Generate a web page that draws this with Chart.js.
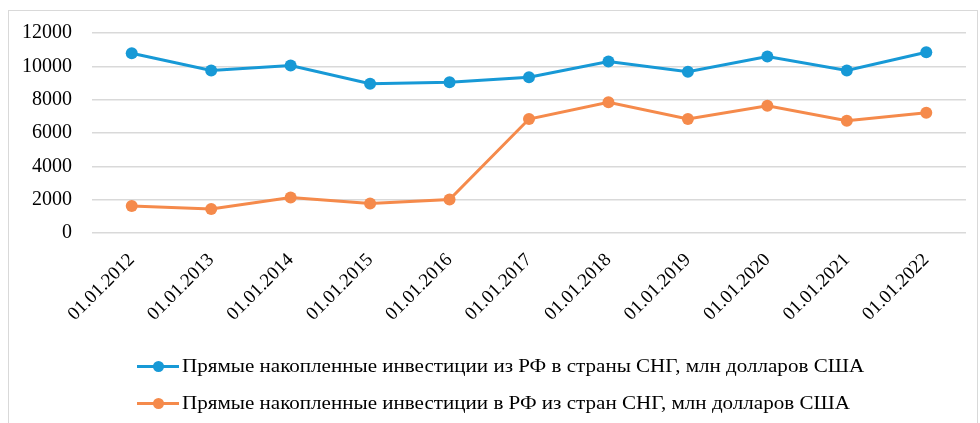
<!DOCTYPE html>
<html>
<head>
<meta charset="utf-8">
<script src="https://cdn.jsdelivr.net/npm/chart.js@4.4.0/dist/chart.umd.min.js"></script>
<style>
  body { margin: 0; background: #fff; }
  #wrap { position: relative; width: 980px; height: 423px; }
  #frame { position: absolute; left: 8px; top: 10px; width: 970px; height: 420px;
           border: 1px solid #d9d9d9; box-sizing: border-box; }
  #chart { position: absolute; left: 0; top: 0; }
  #legend { position: absolute; left: 137px; top: 348px; font-family: "Liberation Serif", serif;
            font-size: 18px; color: #000; }
  .item { height: 37px; display: flex; align-items: center; white-space: nowrap; }
  .mark { position: relative; width: 42px; height: 3px; margin-right: 3px; flex: none; }
  .mark span { position: absolute; left: 16px; top: -4px; width: 11px; height: 11px; border-radius: 50%; }
  .txt { transform: scaleX(1.17); transform-origin: left center; }
</style>
</head>
<body>
<div id="wrap">
  <div id="frame"></div>
  <canvas id="chart" width="980" height="423"></canvas>
  <div id="legend"></div>
</div>
<script>
// DATA
const years = ['01.01.2012', '01.01.2013', '01.01.2014', '01.01.2015', '01.01.2016', '01.01.2017',
               '01.01.2018', '01.01.2019', '01.01.2020', '01.01.2021', '01.01.2022'];
const fromRussia = [10790, 9750, 10050, 8950, 9050, 9350, 10290, 9670, 10590, 9750, 10850];
const intoRussia = [1625, 1445, 2130, 1770, 2010, 6840, 7850, 6840, 7640, 6740, 7220];
const seriesNames = ['Прямые накопленные инвестиции из РФ в страны СНГ, млн долларов США',
                     'Прямые накопленные инвестиции в РФ из стран СНГ, млн долларов США'];
const yTicks = [0, 2000, 4000, 6000, 8000, 10000, 12000];

const blue = '#1799d6';
const orange = '#f58a4b';
const family = '"Liberation Serif", serif';

function makeSet(label, data, color){
    return {
        label: label,
        data: data,
        borderColor: color,
        backgroundColor: color,
        borderWidth: 3,
        pointRadius: 6,
        pointHoverRadius: 6,
        pointBorderWidth: 0,
        tension: 0
    };
};

let ctx = document.getElementById('chart').getContext('2d');
let myChart = new Chart(ctx, {
    type: 'line',
    data: {
        labels: years,
        datasets: [makeSet(seriesNames[0], fromRussia, blue), makeSet(seriesNames[1], intoRussia, orange)]
    },
    options: {
        responsive: false,
        animation: false,
        layout: { padding: { left: 8, right: 14, top: 33, bottom: 100 } },
        plugins: { legend: { display: false }, tooltip: { enabled: false } },
        scales: {
            x: {
                offset: true,
                grid: { display: false },
                border: { display: false },
                ticks: { color: '#000', font: { family: family, size: 19 }, minRotation: 45, maxRotation: 45, padding: 8 },
                afterFit: function(scale){ scale.height = 90; }
            },
            y: {
                min: 0,
                max: 12000,
                afterBuildTicks: function(scale){ scale.ticks = yTicks.map(v => ({ value: v })); },
                grid: { color: '#d9d9d9', lineWidth: 1.5, drawTicks: false },
                border: { display: false },
                ticks: { color: '#000', font: { family: family, size: 20 }, padding: 20,
                         callback: function(v){ return String(v); } },
                afterFit: function(scale){ scale.width = 84; }
            }
        }
    }
});

// LEGEND
let legend = document.getElementById('legend');
myChart.data.datasets.forEach(function(ds){
    let item = document.createElement('div');
    item.className = 'item';
    item.innerHTML = '<div class="mark" style="background:' + ds.borderColor + '"><span style="background:' +
        ds.borderColor + '"></span></div><div class="txt">' + ds.label + '</div>';
    legend.appendChild(item);
});
</script>
</body>
</html>
